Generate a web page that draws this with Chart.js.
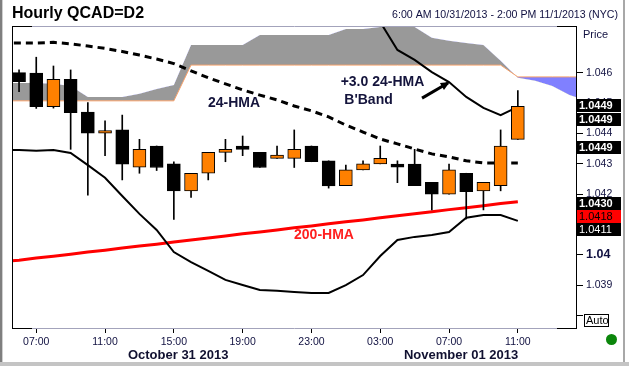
<!DOCTYPE html>
<html lang="en">
<head>
  <meta charset="UTF-8">
  <meta name="viewport" content="width=device-width, initial-scale=1.0">
  <title>Hourly QCAD=D2</title>
  <script src="https://cdn.jsdelivr.net/npm/chart.js"></script>
  <style>
    html, body {
      margin: 0;
      padding: 0;
      background: #ffffff;
    }

    .frame {
      position: relative;
      width: 629px;
      height: 366px;
    }
  </style>
</head>
<body>
  <div class="frame">
    <canvas id="qcadChart" width="629" height="366"></canvas>
  </div>

  <script>
    // hourly candles, 06:00 Oct 31 (index 0) to 11:00 Nov 1 (index 29)
    const candleOpen = [1.04601, 1.04600, 1.04489, 1.04579, 1.04471, 1.04401, 1.04412, 1.04289, 1.04359, 1.04300,
      1.04211, 1.04269, 1.04338, 1.04359, 1.04338, 1.04318, 1.04318, 1.04359, 1.04310, 1.04228,
      1.04280, 1.04300, 1.04299, 1.04299, 1.04239, 1.04200, 1.04269, 1.04211, 1.04228, 1.04381];
    const candleHigh = [1.04610, 1.04652, 1.04623, 1.04610, 1.04502, 1.04442, 1.04461, 1.04381, 1.04359, 1.04307,
      1.04269, 1.04338, 1.04381, 1.04392, 1.04338, 1.04359, 1.04412, 1.04359, 1.04310, 1.04296,
      1.04310, 1.04359, 1.04310, 1.04348, 1.04239, 1.04299, 1.04269, 1.04239, 1.04412, 1.04542];
    const candleLow = [1.04538, 1.04483, 1.04484, 1.04348, 1.04197, 1.04327, 1.04247, 1.04269, 1.04278, 1.04117,
      1.04189, 1.04247, 1.04307, 1.04327, 1.04288, 1.04318, 1.04288, 1.04307, 1.04220, 1.04228,
      1.04280, 1.04300, 1.04238, 1.04228, 1.04148, 1.04200, 1.04118, 1.04148, 1.04211, 1.04381];
    const candleClose = [1.04571, 1.04489, 1.04579, 1.04469, 1.04401, 1.04410, 1.04299, 1.04348, 1.04288, 1.04211,
      1.04269, 1.04338, 1.04348, 1.04348, 1.04288, 1.04329, 1.04348, 1.04307, 1.04227, 1.04280,
      1.04300, 1.04318, 1.04289, 1.04228, 1.04200, 1.04280, 1.04208, 1.04239, 1.04359, 1.04490];

    // studies start one hour before the first candle (index -1)
    const hma24 = [1.04699, 1.04699, 1.04699, 1.04701, 1.04696, 1.04689, 1.04681, 1.04671, 1.04659, 1.04646,
      1.04631, 1.04607, 1.04584, 1.04564, 1.04544, 1.04527, 1.04511, 1.04491, 1.04475, 1.04455,
      1.04428, 1.04405, 1.04382, 1.04366, 1.04349, 1.04333, 1.04323, 1.04310, 1.04303, 1.04303, 1.04303];
    const bandUpper = [1.05060, 1.05059, 1.05062, 1.05055, 1.05059, 1.05088, 1.05092, 1.05131, 1.05171, 1.05197,
      1.05237, 1.05224, 1.05207, 1.05184, 1.05148, 1.05118, 1.05088, 1.05065, 1.05036, 1.05029,
      1.04956, 1.04877, 1.04768, 1.04676, 1.04643, 1.04603, 1.04570, 1.04521, 1.04485, 1.04461, 1.04488];
    const bandLower = [1.04346, 1.04346, 1.04343, 1.04346, 1.04336, 1.04296, 1.04254, 1.04194, 1.04135, 1.04082,
      1.04009, 1.03976, 1.03947, 1.03917, 1.03900, 1.03884, 1.03881, 1.03877, 1.03874, 1.03874,
      1.03900, 1.03933, 1.03996, 1.04049, 1.04059, 1.04065, 1.04075, 1.04122, 1.04131, 1.04131, 1.04112];
    const hma200 = [1.03978, 1.03982, 1.03989, 1.03995, 1.04002, 1.04009, 1.04015, 1.04022, 1.04029, 1.04035,
      1.04042, 1.04049, 1.04055, 1.04062, 1.04069, 1.04075, 1.04082, 1.04089, 1.04095, 1.04102,
      1.04109, 1.04115, 1.04122, 1.04129, 1.04135, 1.04142, 1.04149, 1.04155, 1.04162, 1.04169, 1.04175];

    // cloud spans, index -1 to 33 (projected past the last candle)
    const spanA = [1.04508, 1.04508, 1.04508, 1.04508, 1.04508, 1.04508, 1.04508, 1.04508, 1.04508, 1.04508,
      1.04508, 1.04626, 1.04626, 1.04626, 1.04626, 1.04626, 1.04626, 1.04626, 1.04626, 1.04626,
      1.04626, 1.04626, 1.04626, 1.04626, 1.04626, 1.04626, 1.04626, 1.04626, 1.04626, 1.04626,
      1.04587, 1.04587, 1.04587, 1.04587, 1.04587];
    const spanB = [1.04567, 1.04567, 1.04567, 1.04564, 1.04557, 1.04521, 1.04521, 1.04521, 1.04531, 1.04547,
      1.04560, 1.04692, 1.04692, 1.04692, 1.04692, 1.04725, 1.04725, 1.04725, 1.04725, 1.04725,
      1.04745, 1.04745, 1.04752, 1.04752, 1.04752, 1.04716, 1.04706, 1.04699, 1.04692, 1.04640,
      1.04584, 1.04574, 1.04557, 1.04527, 1.04508];

    const hourTicks = [1, 5, 9, 13, 17, 21, 25, 29];
    const hourLabels = ['07:00', '11:00', '15:00', '19:00', '23:00', '03:00', '07:00', '11:00'];
    const dayLabels = ['October 31 2013', 'November 01 2013'];
    const dayLabelAt = [9.25, 25.7];
    const priceTicks = [1.038, 1.039, 1.04, 1.041, 1.042, 1.043, 1.044, 1.045, 1.046];

    // last-value tags on the price axis
    const tagText = ['1.0449', '1.0449', '1.0449', '1.0430', '1.0418', '1.0411'];
    const tagAt = [1.04491, 1.04447, 1.04354, 1.04169, 1.04126, 1.04084];
    const tagFill = ['#000000', '#000000', '#000000', '#000000', '#ff0000', '#000000'];
    const tagInk = ['#ffffff', '#ffffff', '#ffffff', '#ffffff', '#000000', '#ffffff'];
    const tagBold = [true, true, true, true, false, false];

    const noteText = ['24-HMA', '+3.0 24-HMA', "B'Band", '200-HMA'];
    const noteX = [12.5, 21.13, 20.32, 17.73];
    const noteY = [1.04501, 1.04571, 1.04511, 1.04065];
    const noteColor = ['#14143c', '#14143c', '#14143c', '#ff2020'];

    const FONT = "'Liberation Sans', Arial, sans-serif";
    const INK = '#101040';

    const points = (values, start) => values.map((v, i) => ({ x: i + start, y: v }));

    const lineSet = (values, color, width, extra) => Object.assign({
      type: 'line',
      data: points(values, -1),
      borderColor: color,
      borderWidth: width,
      pointRadius: 0,
      tension: 0,
      fill: false,
      clip: 0
    }, extra || {});

    const extras = {
      id: 'extras',
      beforeDraw(chart) {
        const ctx = chart.ctx;
        ctx.save();
        ctx.fillStyle = '#ffffff';
        ctx.fillRect(0, 0, chart.width, chart.height);
        ctx.fillStyle = '#7f7f7f';
        ctx.fillRect(0, 0, 2, chart.height);
        ctx.fillStyle = '#cfcfcf';
        ctx.fillRect(2, 0, 1, chart.height);
        ctx.fillStyle = '#a8a8a8';
        ctx.fillRect(623, 0, 2, chart.height);
        ctx.fillStyle = '#c4c4c4';
        ctx.fillRect(0, 362, chart.width, 4);
        ctx.restore();
      },
      afterDatasetsDraw(chart) {
        const { ctx, scales: { x, y } } = chart;
        ctx.save();
        ctx.textAlign = 'center';
        ctx.textBaseline = 'middle';
        ctx.font = 'bold 14px ' + FONT;
        noteText.forEach((t, i) => {
          ctx.fillStyle = noteColor[i];
          ctx.fillText(t, x.getPixelForValue(noteX[i]), y.getPixelForValue(noteY[i]));
        });

        // pointer from the band label to the upper band
        const x0 = x.getPixelForValue(23.43), y0 = y.getPixelForValue(1.04517);
        const x1 = x.getPixelForValue(24.94), y1 = y.getPixelForValue(1.04567);
        ctx.strokeStyle = '#000';
        ctx.lineWidth = 3;
        ctx.beginPath();
        ctx.moveTo(x0, y0);
        ctx.lineTo(x1, y1);
        ctx.stroke();
        const a = Math.atan2(y1 - y0, x1 - x0);
        ctx.fillStyle = '#000';
        ctx.beginPath();
        ctx.moveTo(x1 + 2 * Math.cos(a), y1 + 2 * Math.sin(a));
        ctx.lineTo(x1 - 7 * Math.cos(a) + 4 * Math.sin(a), y1 - 7 * Math.sin(a) - 4 * Math.cos(a));
        ctx.lineTo(x1 - 7 * Math.cos(a) - 4 * Math.sin(a), y1 - 7 * Math.sin(a) + 4 * Math.cos(a));
        ctx.closePath();
        ctx.fill();
        ctx.restore();
      },
      afterDraw(chart) {
        const { ctx, chartArea: { left, right, top, bottom }, scales: { x, y } } = chart;
        ctx.save();

        // plot frame: black corners, grey runs
        ctx.lineWidth = 1;
        ctx.strokeStyle = '#000';
        ctx.beginPath();
        ctx.moveTo(left + 0.5, top);
        ctx.lineTo(left + 0.5, bottom);
        ctx.moveTo(right - 0.5, top);
        ctx.lineTo(right - 0.5, bottom);
        [top + 0.5, bottom - 0.5].forEach(yy => {
          ctx.moveTo(left, yy);
          ctx.lineTo(left + 20, yy);
          ctx.moveTo(right - 20, yy);
          ctx.lineTo(right, yy);
        });
        ctx.stroke();
        ctx.strokeStyle = '#a3a3bb';
        ctx.beginPath();
        [top + 0.5, bottom - 0.5].forEach(yy => {
          ctx.moveTo(left + 20, yy);
          ctx.lineTo(right - 20, yy);
        });
        ctx.stroke();

        // titles
        ctx.fillStyle = '#000';
        ctx.textBaseline = 'alphabetic';
        ctx.textAlign = 'left';
        ctx.font = 'bold 16px ' + FONT;
        ctx.fillText('Hourly QCAD=D2', 12, 18);
        ctx.font = '10.6px ' + FONT;
        ctx.fillStyle = INK;
        ctx.textAlign = 'right';
        ctx.fillText('6:00 AM 10/31/2013 - 2:00 PM 11/1/2013 (NYC)', 618, 18);
        ctx.textAlign = 'left';
        ctx.font = '11px ' + FONT;
        ctx.fillText('Price', 583, 38);

        // day labels under the hour ticks
        ctx.textAlign = 'center';
        ctx.textBaseline = 'middle';
        ctx.font = 'bold 13px ' + FONT;
        ctx.fillStyle = '#101030';
        dayLabels.forEach((t, i) => ctx.fillText(t, x.getPixelForValue(dayLabelAt[i]), 355));

        // value tags
        ctx.textAlign = 'left';
        tagText.forEach((t, i) => {
          const cy = y.getPixelForValue(tagAt[i]);
          const ty = Math.round(cy - 6.5);
          ctx.fillStyle = tagFill[i];
          ctx.fillRect(right, ty, 44, 13);
          ctx.fillStyle = tagInk[i];
          ctx.font = (tagBold[i] ? 'bold ' : '') + '11px ' + FONT;
          ctx.fillText(t, right + 2, ty + 7);
        });

        // auto-scale box and status dot
        const ay = Math.round(y.getPixelForValue(1.038));
        ctx.fillStyle = '#fff';
        ctx.fillRect(584, ay - 1, 25, 12);
        ctx.strokeStyle = '#000';
        ctx.strokeRect(584.5, ay - 0.5, 24, 12);
        ctx.fillStyle = '#000';
        ctx.font = '11px ' + FONT;
        ctx.fillText('Auto', 586, ay + 6);
        ctx.fillStyle = '#0b860b';
        ctx.beginPath();
        ctx.arc(611.5, 339.5, 5.5, 0, Math.PI * 2);
        ctx.fill();
        ctx.restore();
      }
    };

    const ctx = document.getElementById('qcadChart').getContext('2d');
    new Chart(ctx, {
      type: 'bar',
      data: {
        datasets: [
          {
            type: 'line',
            data: points(spanA, -1),
            borderColor: '#f6a26c',
            borderWidth: 1,
            pointRadius: 0,
            tension: 0,
            clip: 0,
            fill: { target: 1, above: '#8080ff', below: '#999999' },
            order: 19
          },
          {
            type: 'line',
            data: points(spanB, -1),
            borderColor: 'rgba(0,0,0,0)',
            borderWidth: 0,
            pointRadius: 0,
            tension: 0,
            clip: 0,
            fill: false,
            order: 20
          },
          lineSet(hma200, '#ff0000', 3, { order: 8 }),
          lineSet(bandUpper, '#000000', 2, { order: 7 }),
          lineSet(bandLower, '#000000', 2, { order: 7 }),
          lineSet(hma24, '#000000', 3, { order: 6, borderDash: [7, 5] }),
          {
            data: candleHigh.map((h, i) => ({ x: i, y: [candleLow[i], h] })),
            backgroundColor: '#000000',
            barThickness: 1,
            grouped: false,
            order: 3
          },
          {
            data: candleOpen.map((o, i) => ({ x: i, y: [o, candleClose[i]] })),
            backgroundColor: candleClose.map((c, i) => c > candleOpen[i] ? '#ff8000' : '#000000'),
            borderColor: '#000000',
            borderWidth: 1,
            borderSkipped: false,
            barThickness: 13,
            grouped: false,
            order: 2
          }
        ]
      },
      options: {
        responsive: false,
        animation: false,
        devicePixelRatio: 1,
        events: [],
        layout: { padding: { left: 12, top: 26, right: 0, bottom: 0 } },
        plugins: {
          legend: { display: false },
          title: { display: false },
          tooltip: { enabled: false }
        },
        scales: {
          x: {
            type: 'linear',
            min: -0.41,
            max: 32.44,
            offset: false,
            afterBuildTicks: s => { s.ticks = hourTicks.map(v => ({ value: v })); },
            afterFit: s => { s.height = 37; },
            grid: { drawOnChartArea: false, drawTicks: true, tickLength: 4, color: '#000', offset: false },
            border: { display: false },
            ticks: {
              autoSkip: false,
              maxRotation: 0,
              padding: 3,
              color: INK,
              font: { family: FONT, size: 10.5 },
              callback: (v, i) => hourLabels[i]
            }
          },
          y: {
            type: 'linear',
            position: 'right',
            min: 1.03755,
            max: 1.04755,
            afterBuildTicks: s => { s.ticks = priceTicks.map(v => ({ value: v })); },
            afterFit: s => { s.width = 52; },
            grid: { drawOnChartArea: false, drawTicks: true, tickLength: 6, color: '#000' },
            border: { display: false },
            ticks: {
              padding: 3,
              color: INK,
              font: c => (c.tick && c.tick.value === 1.04)
                ? { family: FONT, size: 12.5, weight: 'bold' }
                : { family: FONT, size: 10.5 },
              callback: v => v === 1.038 ? '' : String(v)
            }
          }
        }
      },
      plugins: [extras]
    });
  </script>
</body>
</html>
